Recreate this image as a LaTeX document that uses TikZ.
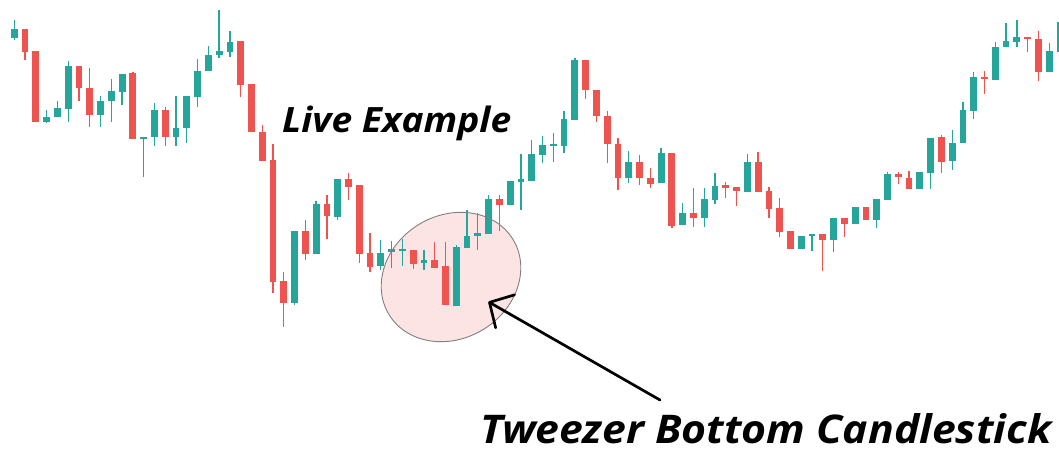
\documentclass[tikz,border=0pt]{standalone}
\usepackage{fontspec}
\setmainfont{Open Sans}
\usetikzlibrary{arrows.meta}
\definecolor{G}{HTML}{26A69A}
\definecolor{R}{HTML}{EF5350}
\definecolor{ellfill}{HTML}{FCE4E4}
\definecolor{ellline}{HTML}{808080}
\tikzset{
  wickline/.style={line width=1.3pt},
  ringfill/.style={fill=ellfill},
  ringline/.style={draw=ellline, line width=0.9pt},
  pointer/.style={line width=2.7pt, line cap=round, line join=round, -{Straight Barb[length=18pt,width=38pt,line cap=round,line join=round]}},
  labeltext/.style={inner sep=0pt, font=\bfseries\itshape, text=black}
}
\newcommand\cndl[6]{%
  \pgfmathsetmacro\cx{14.3+10.78*#1}%
  \draw[#2, wickline] (\cx,#5) -- (\cx,#6);%
  \fill[#2] (\cx-3.4,#3) rectangle (\cx+3.4,#4);%
}
\begin{document}
\begin{tikzpicture}[x=1pt,y=-1pt]
\useasboundingbox (0,0) rectangle (1059,453);
\fill[white] (0,0) rectangle (1059,453);
\clip (0,0) rectangle (1059,453);
\coordinate (E) at (451,277);
\fill[ringfill, rotate around={31:(E)}] (E) ellipse [x radius=72.5pt, y radius=61.6pt];
\foreach \i/\c/\t/\b/\h/\l in {
0/G/29.3/38.3/20/40,
1/R/29.3/51.7/29.3/60,
2/R/50.7/121.7/50.7/121.7,
3/G/116.7/121.7/110/122.7,
4/G/108.3/117.3/100.7/117.3,
5/G/65.7/109.3/61/121.7,
6/R/65.7/87.7/65.7/100.7,
7/R/87.7/115/68.3/126.7,
8/G/101/115/95.7/126.7,
9/G/91/101/79.3/121.7,
10/G/74/91.7/74/105,
11/R/73.3/139/71.7/139,
12/G/136.5/138.7/136.5/176.7,
13/G/110/137.3/103.3/145.7,
14/R/110/137.3/107.3/145.7,
15/G/127.7/137.3/95.7/145.7,
16/G/95.7/127.7/95.7/143.3,
17/G/71/96.7/59.3/106.7,
18/G/55/71/45.7/71,
19/G/51/55/10/58.3,
20/G/41.7/51.7/30.7/56.7,
21/R/41/85/41/97.3,
22/R/84.3/132.3/84.3/132.3,
23/R/131.7/160.7/125/160.7,
24/R/160/282.3/144/292.7,
25/R/281/302.7/271.7/326.7,
26/G/231/303.3/231/305,
27/R/231/254/220/260,
28/G/204/254/201/254,
29/R/204/216/195/239.3,
30/G/179/216.7/179/220,
31/R/179/186.7/173.3/200,
32/R/185/254.3/185/262.7,
33/R/252.7/266.7/233.3/271.7,
34/G/252.7/266/240/270,
35/G/249.3/251.7/241/268.3,
36/G/249/251/239.3/266,
37/R/250/264.3/250/269.3,
38/G/260/263.3/250/270,
39/R/260/267.7/241.7/267.7,
40/R/266/305/241.7/305,
41/G/247.3/305.7/245/305.7,
42/G/236/248.3/210/248.3,
43/G/233.3/236/213.3/250,
44/G/199.3/234/195/234,
45/R/199/205/195/231,
46/G/180.5/205/180.5/205,
47/G/179.3/181.5/154/210,
48/G/154.3/180.7/140/180.7,
49/G/145/155/135.7/163.3,
50/G/144.3/146.3/133.3/161.7,
51/G/119.3/146/111/153.3,
52/G/60/120/57.7/120,
53/R/60/90/60/99.3,
54/R/90/116/90/121.7,
55/R/116/144/111/163.3,
56/R/144/177.7/138.3/190,
57/G/161.7/177.7/151/183.3,
58/R/161.7/177.7/155/185,
59/R/177.7/184/167.7/188.3,
60/G/153.3/183.3/148.3/183.3,
61/R/153/226/153/228,
62/G/212.7/225/203.3/225,
63/R/212.7/218.3/188.3/226.7,
64/G/199/218.3/188.3/226.7,
65/G/185.7/200/172.7/204,
66/R/185/187.7/181.7/198.3,
67/R/187.3/191/187.3/206,
68/G/162.3/191.7/154.3/191.7,
69/R/162.3/191.7/151.7/191.7,
70/R/190.7/209.3/187.3/218.3,
71/R/208.3/231.7/198.3/237.3,
72/R/231/249/231/249,
73/G/235.7/249/235.7/249,
74/G/234.3/236.3/234.3/250.7,
75/R/234.3/240/234.3/271,
76/G/218.3/240/218.3/251.7,
77/R/218.3/224/218.3/237.3,
78/G/207/224/207/224,
79/R/207.3/220/207.3/220,
80/G/199/220/199/228.3,
81/G/174/200/171.7/200,
82/R/174.3/176.7/172.3/184.3,
83/R/177.7/189.3/170.7/189.3,
84/G/171.7/189.3/171.7/189.3,
85/G/138.3/173.3/138.3/189.3,
86/R/137.3/161.7/135/172.7,
87/G/142.7/160.7/130/170,
88/G/110/143.3/101.7/143.3,
89/G/76.7/110.7/71.7/119,
90/R/76.7/79.3/70.7/94.3,
91/G/46.7/80/41.7/80,
92/G/41/47.3/22.7/47.3,
93/G/36.7/42.3/20/46.7,
94/R/36.7/39/36.7/52.3,
95/R/39/71.7/30.7/81,
96/G/50.7/71.7/42.7/71.7,
97/G/21.7/51.7/15/51.7}
{\cndl{\i}{\c}{\t}{\b}{\h}{\l}}
\draw[ringline, rotate around={31:(E)}] (E) ellipse [x radius=72.5pt, y radius=61.6pt];
\node[labeltext, anchor=base west] (live) at (282,132.3) {\resizebox{229pt}{26.5pt}{Live Example}};
\node[labeltext, anchor=base west] (tweezer) at (480,443.5) {\resizebox{571pt}{30pt}{Tweezer Bottom Candlestick}};
\coordinate (tail) at (660,400);
\coordinate (tip) at (488.3,301.7);
\draw[pointer] (tail) -- (tip);
\end{tikzpicture}
\end{document}
